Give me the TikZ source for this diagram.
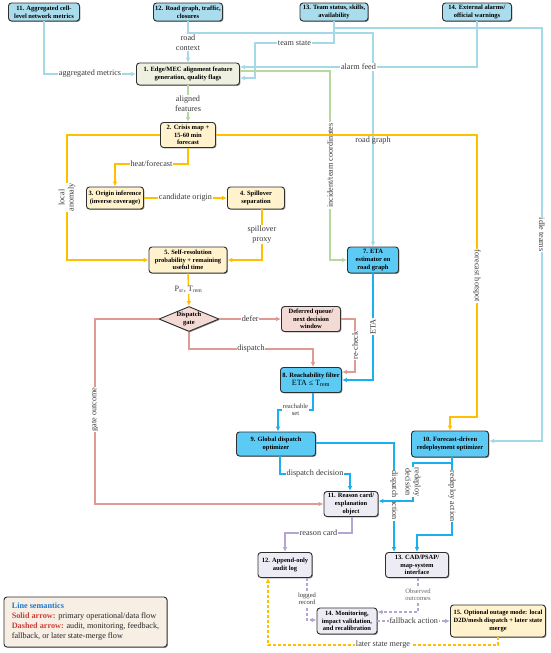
\documentclass[tikz,border=0pt]{standalone}
\usepackage{fontspec}
\setmainfont{Liberation Serif}
\usetikzlibrary{arrows.meta,shapes.geometric,shadows}
\definecolor{lblue}{HTML}{A6D9E8}
\definecolor{lbluefill}{HTML}{A9DCEC}
\definecolor{greenl}{HTML}{B9D89E}
\definecolor{greenfill}{HTML}{EEF1E0}
\definecolor{orng}{HTML}{FFC000}
\definecolor{creamfill}{HTML}{FFF2CC}
\definecolor{pinkl}{HTML}{DE9A93}
\definecolor{pinkfill}{HTML}{F4DAD5}
\definecolor{bluel}{HTML}{1AAFEF}
\definecolor{bluefill}{HTML}{5BCBF5}
\definecolor{purpl}{HTML}{B4A5D5}
\definecolor{purpfill}{HTML}{EDECF4}
\definecolor{legfill}{HTML}{F7EEE4}
\definecolor{labgray}{HTML}{3A3A3A}
\definecolor{legblue}{HTML}{1F78C8}
\definecolor{legred}{HTML}{C8413B}
\begin{document}
\begin{tikzpicture}[x=1pt,y=-1pt,
  box/.style={draw=black!82, line width=0.9pt, rounded corners=3pt, align=center, inner sep=1pt,
    font=\fontsize{6.5}{7.6}\selectfont\bfseries,
    drop shadow={shadow xshift=0.9pt, shadow yshift=-0.9pt, opacity=0.45, fill=black}},
  gatebox/.style={diamond, draw=black!82, line width=0.9pt, aspect=2.4, inner sep=0pt, align=center,
    font=\fontsize{6.5}{7.6}\selectfont\bfseries,
    drop shadow={shadow xshift=0.9pt, shadow yshift=-0.9pt, opacity=0.45, fill=black}},
  flow/.style={line width=1.4pt, -{Latex[length=5pt,width=4.6pt]}},
  dflow/.style={flow, dash pattern=on 3pt off 2pt},
  lab/.style={fill=white, inner sep=0.8pt, align=center, text=labgray, font=\fontsize{8.2}{9.4}\selectfont},
  slab/.style={lab, font=\fontsize{6.6}{7.4}\selectfont},
]
\useasboundingbox (0,0) rectangle (550,653);

% ---------- nodes ----------
\node[box, fill=lbluefill, minimum width=71pt, minimum height=18pt] (n11) at (44,12) {11. Aggregated cell-\\level network metrics};
\node[box, fill=lbluefill, minimum width=69pt, minimum height=18pt] (n12) at (188,12) {12. Road graph, traffic,\\closures};
\node[box, fill=lbluefill, minimum width=68pt, minimum height=18pt] (n13) at (334,12) {13. Team status, skills,\\availability};
\node[box, fill=lbluefill, minimum width=69pt, minimum height=18pt] (n14) at (477,12) {14. External alarms/\\official warnings};

\node[box, fill=greenfill, minimum width=103pt, minimum height=22pt] (e1) at (188,74) {1. Edge/MEC alignment feature\\generation, quality flags};

\node[box, fill=creamfill, minimum width=55pt, minimum height=25pt] (c2) at (188,135) {2. Crisis map +\\15-60 min\\forecast};
\node[box, fill=creamfill, minimum width=57pt, minimum height=22pt] (c3) at (115,198) {3. Origin inference\\(inverse coverage)};
\node[box, fill=creamfill, minimum width=57pt, minimum height=22pt] (c4) at (256,198) {4. Spillover\\separation};
\node[box, fill=creamfill, minimum width=78pt, minimum height=26pt] (c5) at (188,260) {5. Self-resolution\\probability + remaining\\useful time};

\node[gatebox, fill=pinkfill, minimum width=60pt, minimum height=25pt] (gate) at (189,319) {Dispatch\\gate};
\node[box, fill=pinkfill, minimum width=59pt, minimum height=25pt] (dq) at (311,319) {Deferred queue/\\next decision\\window};

\node[box, fill=bluefill, minimum width=51pt, minimum height=26pt] (r7) at (373,260) {7. ETA\\estimator on\\road graph};
\node[box, fill=bluefill, minimum width=61pt, minimum height=25pt] (r8) at (311,380) {8. Reachability filter\\[0.5pt]{\fontsize{8}{9}\selectfont\mdseries ETA ≤ T\textsubscript{rem}}};
\node[box, fill=bluefill, minimum width=79pt, minimum height=24pt] (r9) at (276,444) {9. Global dispatch\\optimizer};
\node[box, fill=bluefill, minimum width=77pt, minimum height=26pt] (r10) at (450,444) {10. Forecast-driven\\redeployment optimizer};

\node[box, fill=purpfill, minimum width=54pt, minimum height=25pt] (p11) at (351,504) {11. Reason card/\\explanation\\object};
\node[box, fill=purpfill, minimum width=54pt, minimum height=25pt] (p12) at (285,565) {12. Append-only\\audit log};
\node[box, fill=purpfill, minimum width=63pt, minimum height=25pt] (p13) at (417,565) {13. CAD/PSAP/\\map-system\\interface};
\node[box, fill=purpfill, minimum width=60pt, minimum height=26pt] (p14) at (347,621) {14. Monitoring,\\impact validation,\\and recalibration};
\node[box, fill=creamfill, minimum width=95pt, minimum height=32pt] (n15) at (498,621) {15. Optional outage mode: local\\D2D/mesh dispatch + later state\\merge};

\node[box, fill=legfill, minimum width=163pt, minimum height=50pt, align=left, inner sep=3pt,
  font=\fontsize{8.2}{10}\selectfont\mdseries, text=black!85] (leg) at (85.5,622)
  {\textcolor{legblue}{\bfseries Line semantics}\\
   \textcolor{legred}{\bfseries Solid arrow:} primary operational/data flow\\
   \textcolor{legred}{\bfseries Dashed arrow:} audit, monitoring, feedback,\\
   fallback, or later state-merge flow};

% ---------- light blue inputs ----------
\draw[flow, lblue] (n11.south) |- node[lab, pos=0.75]{aggregated metrics} (e1.west);
\draw[flow, lblue] (n12.south) -- node[lab, pos=0.52]{road\\context} (e1.north);
\draw[flow, lblue] (n12.south) -- (188,33) -- (373,33) -- node[text=labgray, font=\fontsize{8.2}{9.4}\selectfont, pos=0.505]{road graph} (r7.north);
\draw[flow, lblue] (n13.south) |- node[lab, pos=0.75]{team state} (255,43) |- ([yshift=-4pt]e1.east);
\draw[flow, lblue] (n13.south) |- (542,28) -- node[lab, rotate=-90, pos=0.5]{idle teams} (542,441) -- ([yshift=3pt]r10.east);
\draw[flow, lblue] (n14.south) |- node[lab, pos=0.75]{alarm feed} ([yshift=7pt]e1.east);

% ---------- green ----------
\draw[flow, greenl] (e1.south) -- node[lab]{aligned\\features} (c2.north);
\draw[flow, greenl] ([yshift=3pt]e1.east) -- (330,71) -- node[lab, rotate=90, pos=0.5]{incident/team coordinates} (330,260) -- (r7.west);

% ---------- orange ----------
\draw[flow, orng] (c2.east) -- (477,135) -- node[lab, rotate=-90]{forecast hotspot} (477,417) -- (450,417) -- (r10.north);
\draw[flow, orng] (c2.west) -- (67,135) -- node[lab, rotate=90]{local\\anomaly} (67,260) -- (c5.west);
\draw[flow, orng] (c2.south) -- (188,164) -- node[lab]{heat/forecast} (115,164) -- (c3.north);
\draw[flow, orng] (c3.east) -- node[lab]{candidate origin} (c4.west);
\draw[flow, orng] ([xshift=6pt]c4.south) -- node[lab]{spillover\\proxy} (262,260) -- (c5.east);
\draw[flow, orng] (c5.south) -- node[lab]{P\textsubscript{sr}, T\textsubscript{rem}} (gate.north);

% ---------- pink ----------
\draw[flow, pinkl] (gate.east) -- node[lab]{defer} (dq.west);
\draw[flow, pinkl] (gate.south) -- (189,349) -- node[lab]{dispatch} (313,349) -- ([xshift=2pt]r8.north);
\draw[flow, pinkl] (gate.west) -- (95,319) -- node[lab, rotate=90, pos=0.49]{gate outcome} (95,504) -- (p11.west);
\draw[flow, pinkl] (dq.east) -- (355,319) -- node[lab, rotate=90]{re-check} (355,372) -- ([yshift=8pt]r8.east);

% ---------- blue ----------
\draw[flow, bluel] (r7.south) -- node[lab, rotate=90]{ETA} (373,380) -- (r8.east);
\draw[flow, bluel] ([xshift=2pt]r8.south) -- (313,410) -- node[slab]{reachable\\set} (278,410) -- ([xshift=2pt]r9.north);
\draw[flow, bluel] ([xshift=4pt]r9.south) -- (280,474) -- node[lab]{dispatch decision} (350,474) -- ([xshift=-1pt]p11.north);
\draw[flow, bluel] ([yshift=1pt]r9.east) -- (394,443) -- node[lab, rotate=-90, pos=0.48]{dispatch action} ([xshift=-23pt]p13.north);
\draw[flow, bluel] ([xshift=2pt]r10.south) -- (452,463) -- (413,463) -- node[lab, rotate=-90]{redeploy\\decision} (413,501) -- ([yshift=3pt]p11.east);
\draw[flow, bluel] ([xshift=2pt]r10.south) -- node[lab, rotate=-90]{redeploy action} (452,535) -- (417,535) -- (p13.north);

% ---------- purple ----------
\draw[flow, purpl] ([xshift=1pt]p11.south) -- (352,533) -- node[lab]{reason card} (285,533) -- (p12.north);
\draw[dflow, purpl] ([xshift=22pt]p12.south) -- node[slab]{logged\\record} (307,620) -- ([yshift=1pt]p14.west);
\draw[dflow, purpl] ([xshift=1pt]p13.south) -- node[slab, text=black!60]{Observed\\outcomes} (418,612) -- ([yshift=9pt]p14.east);
\draw[dflow, purpl] (p14.east) -- node[lab]{fallback action} (n15.west);
\draw[dflow, orng] (n15.south) -- (498,645) -- node[lab]{later state merge} (268,645) -- ([xshift=-17pt]p12.south);
\end{tikzpicture}
\end{document}
